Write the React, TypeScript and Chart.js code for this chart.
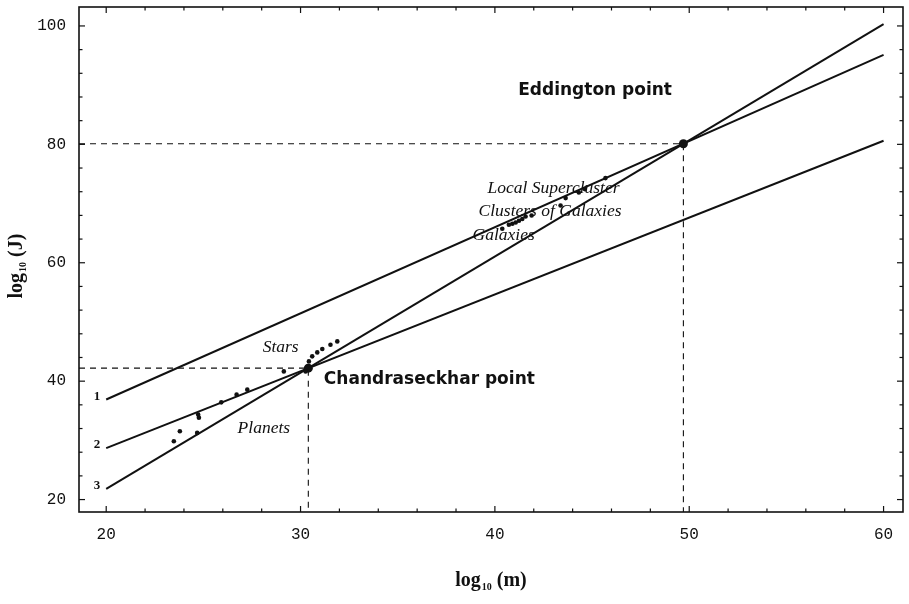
import React, { useEffect, useRef } from "react";
import { Chart, registerables } from "chart.js";
Chart.register(...registerables);

// ---- data ----
const xTicks = [20, 30, 40, 50, 60];
const yTicks = [20, 40, 60, 80, 100];
const xMinorTicks = [22, 24, 26, 28, 32, 34, 36, 38, 42, 44, 46, 48, 52, 54, 56, 58];
const yMinorTicks = [24, 28, 32, 36, 44, 48, 52, 56, 64, 68, 72, 76, 84, 88, 92, 96];

const lineX = [20, 60];
const line1Y = [36.9, 95.1];
const line2Y = [28.7, 80.6];
const line3Y = [21.8, 100.3];
const lineNames = ["1", "2", "3"];

const planetsX = [23.48, 23.79, 24.68, 24.73, 24.77, 25.92, 26.71, 27.26, 29.14, 30.26];
const planetsY = [29.84, 31.53, 31.26, 34.35, 33.84, 36.42, 37.72, 38.57, 41.65, 41.65];

const starsX = [30.43, 30.6, 30.86, 31.12, 31.54, 31.89];
const starsY = [43.34, 44.19, 44.86, 45.43, 46.16, 46.72];

const galaxiesX = [40.38, 40.72, 40.9, 41.07, 41.24, 41.41, 41.58, 41.89, 43.38, 43.64, 44.32, 44.63, 45.69];
const galaxiesY = [65.74, 66.41, 66.58, 66.8, 67.09, 67.38, 67.81, 67.98, 69.67, 70.92, 71.87, 72.44, 74.3];

const specialNames = ["Chandraseckhar point", "Eddington point"];
const specialX = [30.4, 49.7];
const specialY = [42.2, 80.1];

const regionNames = ["Local Supercluster", "Clusters of Galaxies", "Galaxies", "Stars", "Planets"];

// ---- layout (data coordinates of text anchors, left/middle) ----
const X_MIN = 18.6, X_MAX = 61.0, Y_MIN = 17.9, Y_MAX = 103.2;
const regionPos = [
  [39.62, 72.5],
  [39.16, 68.6],
  [38.85, 64.6],
  [28.05, 45.65],
  [26.76, 32.0],
];
const specialPos = [
  [31.2, 40.25],
  [41.2, 89.0],
];

const pts = (xs: number[], ys: number[]) => xs.map((x, i) => ({ x, y: ys[i] }));

const framePlugin = {
  id: "frame",
  afterDatasetsDraw(chart: any) {
    const { ctx, chartArea: a, scales } = chart;
    const xs = scales.x, ys = scales.y;
    ctx.save();
    ctx.strokeStyle = "#111";
    ctx.lineWidth = 1.6;
    ctx.strokeRect(a.left, a.top, a.right - a.left, a.bottom - a.top);
    ctx.lineWidth = 1.2;
    const tick = (x1: number, y1: number, x2: number, y2: number) => {
      ctx.beginPath(); ctx.moveTo(x1, y1); ctx.lineTo(x2, y2); ctx.stroke();
    };
    xTicks.forEach(v => { const p = xs.getPixelForValue(v); tick(p, a.bottom, p, a.bottom - 6); tick(p, a.top, p, a.top + 6); });
    xMinorTicks.forEach(v => { const p = xs.getPixelForValue(v); tick(p, a.bottom, p, a.bottom - 3.5); tick(p, a.top, p, a.top + 3.5); });
    yTicks.forEach(v => { const p = ys.getPixelForValue(v); tick(a.left, p, a.left + 6, p); tick(a.right, p, a.right - 6, p); });
    yMinorTicks.forEach(v => { const p = ys.getPixelForValue(v); tick(a.left, p, a.left + 3.5, p); tick(a.right, p, a.right - 3.5, p); });

    ctx.fillStyle = "#111";
    ctx.textBaseline = "middle";
    // line labels
    ctx.font = "bold 13px 'Liberation Serif'";
    ctx.textAlign = "right";
    [line1Y, line2Y, line3Y].forEach((ly, i) => {
      ctx.fillText(lineNames[i], xs.getPixelForValue(lineX[0]) - 6, ys.getPixelForValue(ly[0]) - 3);
    });
    // region labels
    ctx.textAlign = "left";
    ctx.font = "italic 17.5px 'Liberation Serif'";
    regionNames.forEach((t, i) => {
      ctx.fillText(t, xs.getPixelForValue(regionPos[i][0]), ys.getPixelForValue(regionPos[i][1]));
    });
    ctx.font = "bold 17px 'DejaVu Sans'";
    specialNames.forEach((t, i) => {
      ctx.fillText(t, xs.getPixelForValue(specialPos[i][0]), ys.getPixelForValue(specialPos[i][1]));
    });

    // axis titles
    const drawTitle = (name: string) => {
      ctx.textBaseline = "alphabetic";
      ctx.font = "bold 20px 'Liberation Serif'";
      const w1 = ctx.measureText("log").width;
      ctx.font = "bold 10px 'Liberation Serif'";
      const w2 = ctx.measureText("10").width;
      ctx.font = "bold 20px 'Liberation Serif'";
      const w3 = ctx.measureText(" " + name).width;
      let x = -(w1 + w2 + 1 + w3) / 2;
      ctx.textAlign = "left";
      ctx.fillText("log", x, 0); x += w1 + 1;
      ctx.font = "bold 10px 'Liberation Serif'";
      ctx.fillText("10", x, 4); x += w2;
      ctx.font = "bold 20px 'Liberation Serif'";
      ctx.fillText(" " + name, x, 0);
    };
    ctx.save();
    ctx.translate((a.left + a.right) / 2, 586);
    drawTitle("(m)");
    ctx.restore();
    ctx.save();
    ctx.translate(22, 266);
    ctx.rotate(-Math.PI / 2);
    drawTitle("(J)");
    ctx.restore();
    ctx.restore();
  },
};

export default function App() {
  const ref = useRef<HTMLCanvasElement>(null);
  useEffect(() => {
    document.body.style.margin = "0";
    const solid = (ys: number[]) => ({
      data: pts(lineX, ys), showLine: true, borderColor: "#111", borderWidth: 2, pointRadius: 0, order: 2,
    });
    const dashed = (i: number) => ({
      data: [
        { x: X_MIN, y: specialY[i] },
        { x: specialX[i], y: specialY[i] },
        { x: specialX[i], y: Y_MIN },
      ],
      showLine: true, borderColor: "#111", borderWidth: 1.1, borderDash: [6, 5], pointRadius: 0, order: 3,
    });
    const dots = (xs: number[], ys: number[], r: number) => ({
      data: pts(xs, ys), showLine: false, pointRadius: r, pointBackgroundColor: "#111", pointBorderColor: "#111",
      pointBorderWidth: 0, order: 1,
    });
    const chart = new Chart(ref.current!, {
      type: "scatter",
      data: {
        datasets: [
          solid(line1Y), solid(line2Y), solid(line3Y),
          dashed(0), dashed(1),
          dots(planetsX, planetsY, 2.3),
          dots(starsX, starsY, 2.3),
          dots(galaxiesX, galaxiesY, 2.3),
          dots(specialX, specialY, 4.5),
        ] as any,
      },
      options: {
        animation: false,
        responsive: false,
        layout: { padding: { top: 7, right: 6, left: 0, bottom: 0 } },
        plugins: { legend: { display: false }, tooltip: { enabled: false } },
        scales: {
          x: {
            type: "linear", min: X_MIN, max: X_MAX,
            grid: { display: false, drawTicks: false }, border: { display: false },
            afterBuildTicks: (s: any) => { s.ticks = xTicks.map(v => ({ value: v })); },
            afterFit: (s: any) => { s.height = 92; s.paddingLeft = 0; s.paddingRight = 0; },
            ticks: { color: "#111", padding: 13, font: { family: "'Liberation Mono'", size: 16 }, maxRotation: 0 },
          },
          y: {
            type: "linear", min: Y_MIN, max: Y_MAX,
            grid: { display: false, drawTicks: false }, border: { display: false },
            afterBuildTicks: (s: any) => { s.ticks = yTicks.map(v => ({ value: v })); },
            afterFit: (s: any) => { s.width = 79; s.paddingTop = 0; s.paddingBottom = 0; },
            ticks: { color: "#111", padding: 13, font: { family: "'Liberation Mono'", size: 16 } },
          },
        },
      },
      plugins: [framePlugin],
    });
    return () => chart.destroy();
  }, []);
  return (
    <div style={{ width: 909, height: 604 }}>
      <canvas ref={ref} width={909} height={604} />
    </div>
  );
}
